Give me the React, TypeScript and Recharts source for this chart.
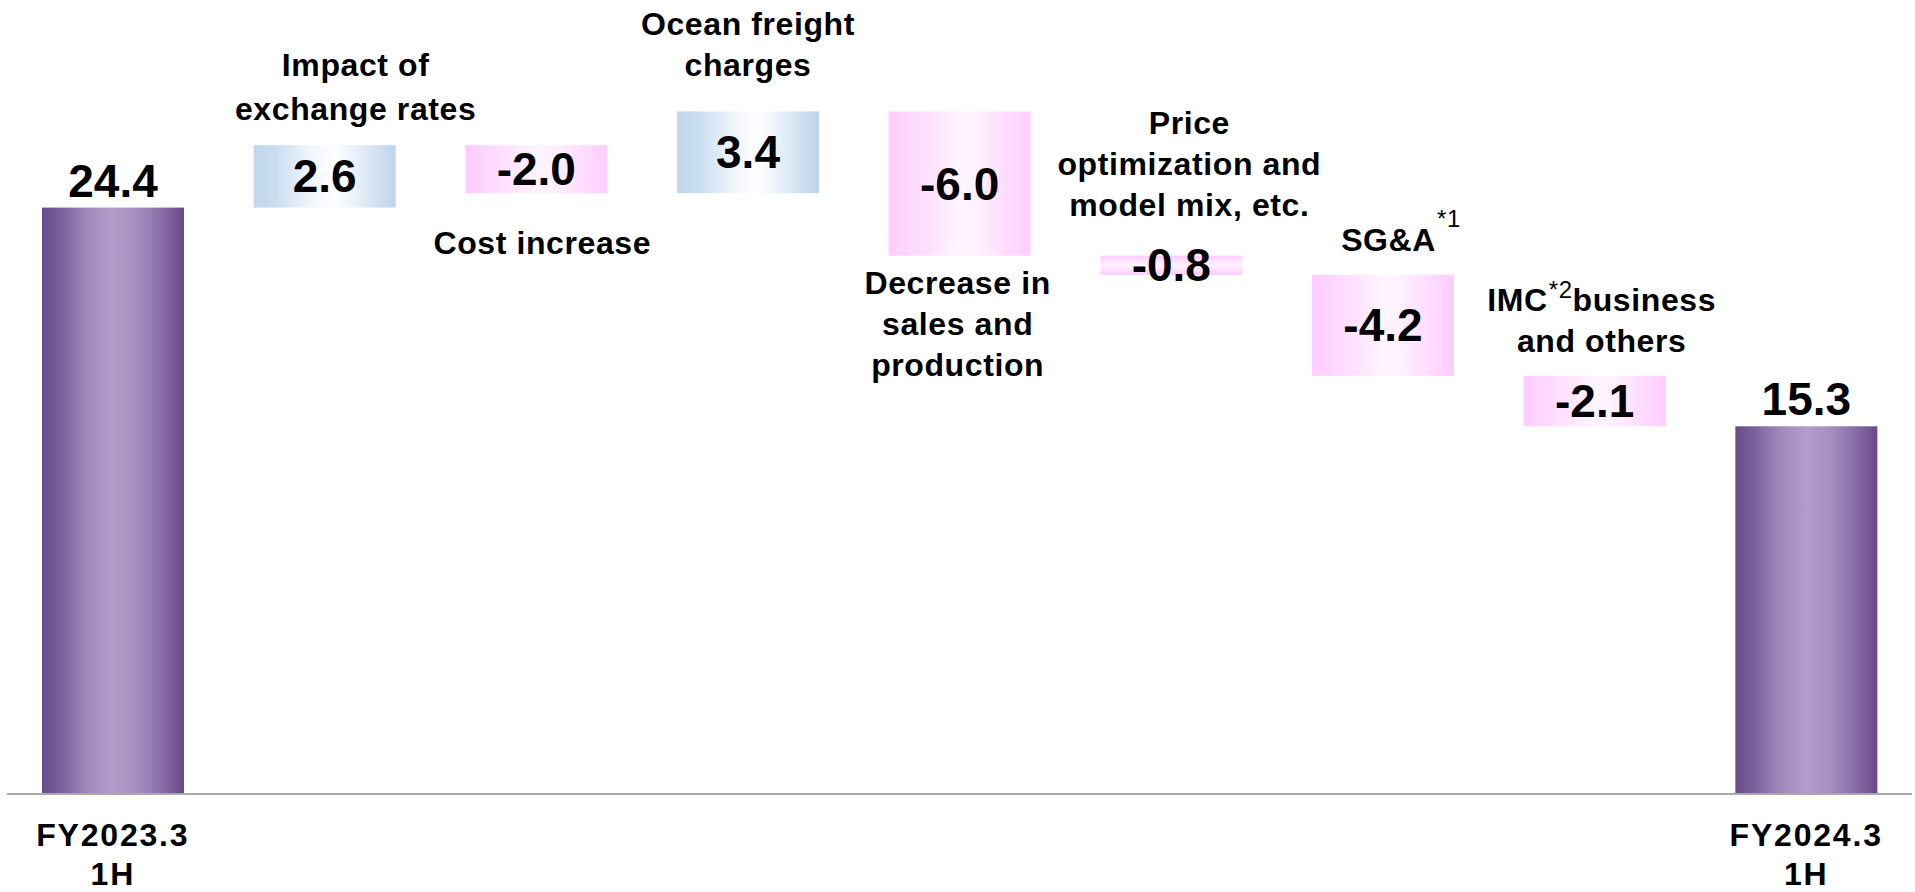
import { Bar, BarChart, XAxis, YAxis } from "recharts"

// Operating income bridge, FY2023.3 1H -> FY2024.3 1H (billion yen)
const categories = [
  "FY2023.3 1H",
  "Impact of exchange rates",
  "Cost increase",
  "Ocean freight charges",
  "Decrease in sales and production",
  "Price optimization and model mix, etc.",
  "SG&A",
  "IMC business and others",
  "FY2024.3 1H",
]
const changes = [24.4, 2.6, -2.0, 3.4, -6.0, -0.8, -4.2, -2.1, 15.3]
const totalFlags = [true, false, false, false, false, false, false, false, true]

// wrapped text shown next to each step box
const labelLines = [
  [],
  ["Impact of", "exchange rates"],
  ["Cost increase"],
  ["Ocean freight", "charges"],
  ["Decrease in", "sales and", "production"],
  ["Price", "optimization and", "model mix, etc."],
  ["SG&A"],
  ["IMC business", "and others"],
  [],
]
const footnotes = [null, null, null, null, null, null, "*1", "*2", null]
const tickLines = [["FY2023.3", "1H"], [], [], [], [], [], [], [], ["FY2024.3", "1H"]]

// where each step's caption sits relative to its box
const labelLayout = [
  null,
  { side: "above", gap: 25, dx: 31, lineH: 44 },
  { side: "below", gap: 61, dx: 6 },
  { side: "above", gap: 35, dx: 0 },
  { side: "below", gap: 38, dx: -2 },
  { side: "above", gap: 40, dx: 18 },
  { side: "above", gap: 24, dx: 18, supLift: 24 },
  { side: "above", gap: 24, dx: 7, supLift: 13 },
  null,
]

const FONT = '"Liberation Sans", Arial, sans-serif'
const LINE_H = 41

// running start/end for every step
const rows = (() => {
  let level = 0
  return categories.map((name, i) => {
    const v = changes[i]
    let range: [number, number]
    if (totalFlags[i]) {
      range = [0, v]
      level = v
    } else {
      const next = level + v
      range = [Math.min(level, next), Math.max(level, next)]
      level = next
    }
    return { name, value: v, total: totalFlags[i], range, index: i }
  })
})()

const fillFor = (row: any) => {
  if (row.total) return "url(#gradTotal)"
  if (row.value >= 0) return "url(#gradUp)"
  return Math.abs(row.value) < 1 ? "url(#gradDownThin)" : "url(#gradDown)"
}

const CaptionLine = ({ text, x, y, mark, lift }: any) => {
  if (!mark) {
    return (
      <text x={x} y={y} textAnchor="middle" fontFamily={FONT} fontWeight="bold" fontSize={32} letterSpacing={0.6} fill="#000">
        {text}
      </text>
    )
  }
  const [first, ...rest] = text.split(" ")
  return (
    <text x={x} y={y} textAnchor="middle" fontFamily={FONT} fontWeight="bold" fontSize={32} letterSpacing={0.6} fill="#000">
      <tspan>{first}</tspan>
      <tspan fontWeight="normal" fontSize={24} dy={-lift} dx={1}>
        {mark}
      </tspan>
      <tspan dy={lift}>{rest.join(" ")}</tspan>
    </text>
  )
}

const StepShape = (props: any) => {
  const { x, y, width, height, payload } = props
  const top = Math.min(y, y + height)
  const h = Math.abs(height)
  const cx = x + width / 2
  const row = payload
  const layout: any = labelLayout[row.index]
  const lines = labelLines[row.index]
  const valueText = row.value.toFixed(1)

  return (
    <g>
      <rect x={x} y={top} width={width} height={h} fill={fillFor(row)} />
      {row.total ? (
        <text x={cx} y={top - 11} textAnchor="middle" fontFamily={FONT} fontWeight="bold" fontSize={46} fill="#000">
          {valueText}
        </text>
      ) : (
        <text x={cx} y={top + h / 2 + 16} textAnchor="middle" fontFamily={FONT} fontWeight="bold" fontSize={46} fill="#000">
          {valueText}
        </text>
      )}
      {layout &&
        lines.map((line, li) => {
          const lh = layout.lineH ?? LINE_H
          const base =
            layout.side === "above"
              ? top - layout.gap - (lines.length - 1 - li) * lh
              : top + h + layout.gap + li * lh
          return (
            <CaptionLine
              key={li}
              text={line}
              x={cx + layout.dx}
              y={base}
              mark={li === 0 ? footnotes[row.index] : null}
              lift={layout.supLift ?? 20}
            />
          )
        })}
    </g>
  )
}

const AxisTick = (props: any) => {
  const { x, y, payload } = props
  const idx = payload?.index ?? categories.indexOf(payload?.value)
  const lines = tickLines[idx] || []
  return (
    <g>
      {lines.map((t, i) => (
        <text
          key={i}
          x={x}
          y={y + 52 + i * 39}
          textAnchor="middle"
          fontFamily={FONT}
          fontWeight="bold"
          fontSize={32}
          letterSpacing={1.8}
          fill="#000"
        >
          {t}
        </text>
      ))}
    </g>
  )
}

export default function App() {
  return (
    <div style={{ position: "absolute", left: 0, top: 0, width: 1915, height: 892, background: "#fff" }}>
      <BarChart width={1915} height={892} data={rows} margin={{ top: 73, right: 3, left: 7, bottom: 0 }}>
        <defs>
          <linearGradient id="gradTotal" x1="0" y1="0" x2="1" y2="0">
            <stop offset="0%" stopColor="#684a89" />
            <stop offset="14%" stopColor="#7d619d" />
            <stop offset="32%" stopColor="#a08abd" />
            <stop offset="50%" stopColor="#b29dcb" />
            <stop offset="66%" stopColor="#a690c2" />
            <stop offset="84%" stopColor="#8a6ea9" />
            <stop offset="100%" stopColor="#674988" />
          </linearGradient>
          <linearGradient id="gradUp" x1="0" y1="0" x2="1" y2="0">
            <stop offset="0%" stopColor="#c0d6ec" />
            <stop offset="15%" stopColor="#c9ddf0" />
            <stop offset="42%" stopColor="#f3f7fc" />
            <stop offset="58%" stopColor="#fdfeff" />
            <stop offset="80%" stopColor="#dce8f5" />
            <stop offset="100%" stopColor="#bed4eb" />
          </linearGradient>
          <linearGradient id="gradDown" x1="0" y1="0" x2="1" y2="0">
            <stop offset="0%" stopColor="#ffccff" />
            <stop offset="18%" stopColor="#ffd9ff" />
            <stop offset="50%" stopColor="#fff4ff" />
            <stop offset="62%" stopColor="#fff1ff" />
            <stop offset="85%" stopColor="#ffdaff" />
            <stop offset="100%" stopColor="#ffccff" />
          </linearGradient>
          <linearGradient id="gradDownThin" x1="0" y1="0" x2="0" y2="1">
            <stop offset="0%" stopColor="#ffccff" />
            <stop offset="50%" stopColor="#fff2ff" />
            <stop offset="100%" stopColor="#ffccff" />
          </linearGradient>
        </defs>
        <XAxis
          dataKey="name"
          interval={0}
          height={98}
          tickLine={false}
          tickSize={0}
          tickMargin={0}
          axisLine={{ stroke: "#a9a9a9", strokeWidth: 2 }}
          tick={<AxisTick />}
        />
        <YAxis hide type="number" domain={[0, 30]} />
        <Bar dataKey="range" barSize={142} shape={<StepShape />} isAnimationActive={false} />
      </BarChart>
    </div>
  )
}
